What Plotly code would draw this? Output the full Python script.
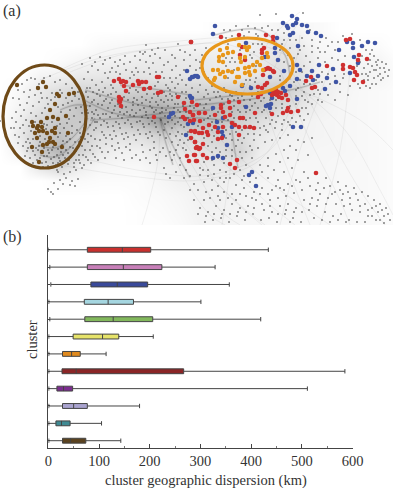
import plotly.graph_objects as go

# ---------- panel (b) values ----------
clusters = ["12", "11", "10", "9", "8", "7", "6", "5", "4", "3", "2", "1"]
box_colors = ["#5b4320", "#3f8a93", "#a9a3cf", "#7b2d8e", "#8a2526", "#e08a1e",
              "#e6e36a", "#82b85c", "#a5d6e0", "#3a4a9a", "#c77fb8", "#c9302e"]
lower = [1, 1, 1, 1, 1, 1, 1, 3, 1, 5, 3, 0]
q1 = [28, 15, 28, 17, 27, 28, 49, 72, 71, 84, 77, 77]
median = [44, 26, 50, 30, 55, 46, 107, 128, 118, 136, 148, 146]
q3 = [74, 43, 77, 48, 267, 63, 139, 206, 168, 196, 224, 202]
upper = [143, 105, 180, 511, 585, 114, 207, 419, 301, 357, 329, 434]
x_ticks = [0, 100, 200, 300, 400, 500, 600]

# ---------- panel (a) values ----------
red_nodes = [(191,42),(114,81),(119,79),(121,82),(123,81),(126,82),(124,86),(126,91),(133,85),(138,81),(139,84),(142,82),(146,82),(144,89),(150,88),(157,77),(159,77),(158,93),(161,92),(119,97),(121,99),(119,101),(120,102),(121,106),(154,117),(178,97),(184,103),(192,102),(197,105),(185,109),(190,112),(183,117),(185,119),(193,115),(194,120),(190,121),(199,113),(191,131),(195,132),(191,138),(195,142),(197,147),(199,149),(187,156),(194,155),(189,161),(196,161),(199,133),
(221,37),(239,35),(266,35),(273,37),(273,41),(191,42),(262,50),(262,53),(264,48),(242,47),(240,55),(245,60),(268,68),(266,69),(270,69),(264,70),(273,71),(274,72),(263,75),(267,83),(265,85),(258,87),(262,88),(275,92),(273,91),(276,90),(278,92),(281,93),(277,95),(279,97),(275,94),(272,95),(286,95),(282,98),(258,97),(261,94),(288,100),(288,108),(287,111),(291,112),(283,113),(298,111),(272,114),(255,113),(306,81),(311,77),(312,88),(315,87),(327,66),(343,65),(343,69),(346,40),(350,39),(359,55),(367,59),(350,67),(353,68),(355,72),(357,75),(354,80),(363,82),(358,60),(316,173),
(221,105),(221,108),(223,112),(229,102),(230,108),(225,117),(230,115),(240,118),(243,118),(239,102),(215,115),(205,113),(199,113),(193,115),(200,121),(209,125),(215,127),(203,128),(195,131),(202,133),(207,132),(208,135),(218,139),(222,138),(223,127),(232,123),(235,125),(239,127),(239,135),(245,127),(250,127),(254,128),(203,144),(195,142),(196,148),(200,148),(203,155),(207,158),(195,155),(197,161),(230,164),(235,168),(237,160),(218,132)]
blue_nodes = [(187,71),(195,76),(192,77),(190,79),(198,77),(190,96),(192,98),(171,114),(173,113),(169,117),(185,119),(188,124),(193,123),(186,135),
(292,16),(297,19),(215,26),(213,34),(283,23),(287,26),(288,28),(293,25),(296,23),(302,25),(307,26),(308,32),(316,33),(321,36),(293,33),(290,35),(277,38),(246,43),(275,48),(275,53),(278,60),(298,46),(339,50),(347,42),(353,43),(353,48),(362,46),(368,42),(375,43),(354,57),(358,63),(350,73),(297,65),(300,70),(284,71),(319,65),(333,69),(312,71),(307,76),(318,76),(313,80),(327,78),(336,82),(325,89),(297,79),(290,86),(270,77),(265,57),(251,88),(242,86),(270,93),(272,98),(283,88),(285,91),(297,99),(268,105),(266,106),(271,104),(270,108),(246,107),(213,108),(193,77),(197,76),(191,98),(217,122),(223,118),(232,127),(222,132),(223,136),(218,128),(227,145),(293,127),(301,127),(213,158),(218,156),(223,158),(252,172),(249,175),(256,186)]
orange_nodes = [(220,50),(223,55),(228,53),(233,52),(227,48),(239,45),(245,47),(249,47),(247,50),(219,57),(219,61),(223,62),(240,58),(241,62),(245,57),(262,58),(267,53),(268,57),(257,62),(260,65),(253,65),(263,70),(255,71),(249,67),(245,68),(238,69),(213,70),(218,70),(223,72),(228,71),(232,72),(220,74),(225,77),(215,78),(214,80),(237,77),(239,77),(235,82),(242,85),(245,73),(250,75),(249,72)]
brown_nodes = [(17,85),(43,82),(38,88),(46,87),(57,94),(59,96),(69,94),(74,93),(55,104),(50,110),(66,116),(47,118),(53,117),(58,119),(32,122),(33,126),(41,122),(38,126),(42,127),(37,128),(35,133),(39,131),(43,131),(47,133),(52,131),(55,128),(55,133),(68,133),(37,138),(50,138),(53,142),(49,142),(47,144),(43,145),(55,144),(32,147),(62,147),(42,152),(39,162)]

grey_nodes = [
# left cluster
(0,121),(13,98),(18,90),(22,84),(27,80),(31,78),(35,79),(39,84),(44,78),(50,76),(55,82),(60,80),(66,84),(72,88),(78,92),(24,92),(30,90),(35,95),(41,93),(47,98),(52,93),(60,90),(66,98),(72,101),(79,99),(84,104),
(20,105),(27,103),(33,106),(39,102),(45,108),(51,100),(58,107),(63,105),(70,110),(76,108),(82,113),(12,118),(16,122),(21,116),(26,120),(31,113),(36,116),(42,113),(61,112),(69,119),(74,116),(80,122),(86,118),
(11,128),(15,135),(20,128),(24,133),(28,139),(31,131),(44,124),(60,124),(64,128),(72,126),(77,130),(84,128),(90,125),(18,143),(23,146),(27,151),(30,143),(36,148),(40,142),(45,139),(58,137),(63,141),(70,139),(75,142),(81,137),(88,134),(94,130),
(25,156),(30,158),(35,155),(38,150),(44,148),(47,156),(52,150),(57,155),(61,152),(66,150),(70,147),(76,151),(82,146),(88,142),(95,139),(33,163),(40,158),(46,162),(51,159),(56,165),(60,161),(65,158),(71,156),(76,160),(83,155),(90,150),(97,146),
(43,167),(50,168),(57,170),(62,167),(68,164),(74,167),(80,163),(88,160),(95,157),(102,152),
# tail below left cluster
(58,172),(64,174),(70,172),(76,170),(82,168),(60,180),(66,178),(72,181),(78,179),(54,183),(63,184),(70,185),(75,186),(58,189),(48,189),(51,192),(53,194),
# band left-middle
(82,64),(90,58),(92,66),(88,72),(95,62),(98,70),(84,79),(92,80),(100,57),(103,64),(105,73),(96,85),(102,82),(108,78),(87,88),(93,92),(99,90),(105,88),(111,85),(116,72),(112,68),(120,74),(126,70),(132,72),(130,62),(136,68),(134,75),(140,60),(143,54),(146,62),(150,56),(149,68),(153,63),(156,72),(160,58),(164,65),(162,72),(168,62),(172,70),(170,78),(176,66),(180,75),(178,84),(184,60),(186,85),
(88,97),(94,100),(100,96),(106,99),(111,94),(116,92),(112,100),(118,104),(124,97),(129,93),(134,98),(138,92),(142,97),(147,94),(152,98),(156,102),(161,100),(166,96),(170,90),(175,88),(172,100),(178,104),(182,92),
(90,106),(96,110),(102,105),(108,108),(114,110),(120,112),(126,107),(132,110),(138,105),(144,108),(150,106),(156,110),(162,108),(168,106),(174,108),(180,112),
(92,118),(98,115),(104,121),(110,117),(116,122),(122,118),(128,120),(134,116),(140,121),(146,115),(152,121),(165,116),(172,120),(178,122),
(96,128),(102,132),(108,127),(114,131),(120,128),(126,133),(132,127),(138,130),(144,127),(150,132),(156,127),(165,124),(172,128),(178,132),(184,127),
(100,140),(106,144),(112,139),(118,143),(124,139),(130,144),(136,140),(142,145),(148,138),(154,142),(160,135),(166,138),(172,142),(180,140),
(108,152),(115,150),(122,153),(130,150),(136,155),(143,152),(150,150),(156,155),(163,148),(170,152),(176,150),(183,148),(150,163),(157,160),(164,168),(166,174),(172,160),(180,158),
(146,45),(140,52),(152,50),(158,48),(172,55),(180,50),(190,55),(196,60),(202,55),(206,48),(200,68),(204,72),(208,78),(178,44),
# centre
(200,85),(206,90),(212,86),(218,92),(224,88),(230,95),(236,92),(242,96),(248,94),(204,97),(210,100),(216,97),(222,99),(228,99),(234,100),(198,92),(192,88),(186,92),(250,100),(255,103),(261,101),(244,106),(238,110),(232,112),(250,110),(256,118),(262,112),(266,118),(272,120),(278,116),(284,120),(292,118),(300,116),(306,108),(312,104),(318,100),(310,95),(304,92),(298,88),(305,100),(296,104),(328,95),(322,102),(290,125),(282,130),(275,128),(268,132),(260,135),(254,140),(248,134),(242,143),(258,148),(265,142),(272,140),(280,138),(288,135),
(208,118),(212,122),(204,108),(198,126),(212,142),(216,148),(220,152),(226,150),(232,150),(236,146),(204,138),(208,146),(214,165),(208,170),(200,168),(220,170),(226,172),(240,170),(246,165),(252,158),(260,165),(268,158),
# upper middle
(255,28),(249,32),(258,36),(262,28),(268,26),(272,30),(278,30),(284,33),(290,40),(296,40),(302,38),(260,15),(276,14),(303,13),(310,30),(312,40),(320,42),(326,38),(332,42),(338,42),(343,36),(300,50),(306,56),(312,52),(318,48),(325,52),(332,58),(338,60),(345,56),(304,66),(310,62),(318,58),(325,62),(335,76),(343,78),(288,55),(284,62),(290,48),(282,44),(294,58),(280,76),(289,78),(296,90),
(230,30),(236,26),(242,30),(248,26),(224,30),(253,44),(258,44),(235,40),(228,44),(240,50),(235,62),(230,62),(226,66),(250,55),(254,52),(256,78),(250,80),(246,80),
# right wing
(352,34),(360,40),(366,50),(370,54),(374,56),(378,60),(382,62),(386,64),(360,62),(364,68),(368,64),(372,66),(376,70),(380,68),(385,72),(362,74),(366,74),(370,72),(374,78),(378,76),(381,80),(368,80),(372,84),(376,84),(366,86),(360,88),(350,86),(344,74),(340,84),(330,84),(322,82),(318,90),(340,92),(348,95),(335,100),(370,60),(377,65),(383,78),(389,70),
# lower right
(200,175),(204,182),(198,190),(206,192),(212,180),(218,186),(224,182),(230,178),(236,185),(242,180),(210,198),(218,196),(224,192),(232,194),(240,194),(246,196),(254,192),(262,188),(268,178),(274,170),(280,162),(288,158),(296,150),(304,142),(312,138),(278,180),(284,172),(292,168),(298,160),(308,155),(272,190),(280,188),(288,184),(296,180),(304,172),(270,200),(278,198),(286,196),(294,193),(302,190),(310,186),(318,183),(326,178),(330,186),(338,182),(346,186),(354,188),(362,192),(368,196),(374,200),(380,204),(386,208),(335,192),(343,194),(350,198),(358,200),(365,204),(372,208),(378,212),(384,216),(390,220),
(200,208),(208,212),(216,206),(224,210),(232,204),(240,208),(248,206),(256,200),(264,210),(272,212),(280,206),(288,204),(296,208),(304,200),(312,198),(320,194),(328,198),(336,204),(344,206),(352,210),(360,212),(368,216),(376,220),(384,223),
(205,222),(213,220),(221,218),(229,222),(237,216),(245,220),(253,214),(261,220),(269,218),(277,222),(285,214),(293,218),(301,222),(309,210),(317,206),(325,212),(333,216),(341,214),(349,220),(357,222),(365,222),(186,170),(190,176),(194,184),(186,150),(180,165),(176,172),(170,178),
]
grey_nodes_dense = [
# left cluster, second reading
(16,112),(19,99),(24,110),(29,97),(37,87),(42,98),(48,104),(55,97),(62,93),(68,103),(75,96),(81,107),(87,110),(23,125),(29,126),(35,122),(47,125),(52,122),(57,126),(67,123),(72,133),(80,133),(86,123),(92,112),(14,128),(19,137),(26,142),(33,139),(40,136),(46,129),(60,133),(66,136),(73,148),(79,142),(85,139),(91,136),(97,122),(103,114),
(28,148),(33,151),(39,146),(43,152),(48,150),(53,147),(58,149),(62,145),(67,142),(44,156),(49,153),(54,157),(59,158),(63,155),(68,153),(73,154),(79,155),(85,150),(92,146),(37,160),(42,163),(48,166),(53,163),(58,163),(63,163),(69,160),(74,163),(79,160),(86,157),(93,154),(100,148),(106,138),(84,165),(91,163),(98,160),(105,158),(112,146),(119,148),(126,147),
# band, second reading
(105,60),(110,58),(115,62),(120,60),(125,56),(135,56),(145,52),(155,54),(165,50),(175,58),(185,52),(195,50),(200,62),(110,72),(118,66),(124,64),(130,78),(138,72),(144,72),(150,74),(158,82),(164,78),(166,85),(172,82),(176,78),(184,70),(190,66),(196,70),(182,80),
(86,92),(90,88),(97,94),(103,92),(108,95),(113,88),(128,100),(133,102),(137,100),(142,103),(146,100),(150,102),(154,94),(158,96),(164,102),(168,100),(172,96),(176,94),(180,96),(186,98),(164,92),(170,94),(155,86),(168,88),(148,88),(136,90),(130,88),
(92,102),(98,104),(104,101),(110,103),(115,106),(122,108),(127,112),(133,105),(140,110),(146,112),(152,108),(158,105),(162,112),(166,110),(170,112),(175,104),(178,110),(183,106),(186,112),(190,106),(194,108),(200,104),(88,113),(94,114),(100,118),(106,114),(112,113),(118,116),(124,114),(130,115),(136,113),(142,117),(148,118),(154,112),(160,113),(168,118),(175,116),(180,118),
(95,122),(101,125),(107,123),(113,126),(119,124),(125,123),(131,124),(137,122),(143,124),(149,124),(155,123),(161,120),(168,122),(175,124),(181,125),(188,118),(104,135),(110,135),(116,136),(122,134),(128,137),(134,135),(140,134),(146,134),(152,136),(158,132),(164,130),(170,134),(176,136),(182,134),(188,132),
(116,158),(124,160),(132,158),(140,160),(146,158),(154,148),(160,152),(166,156),(174,155),(178,145),(184,143),(188,140),
# centre, second reading
(208,94),(214,92),(220,96),(226,92),(232,96),(238,98),(244,100),(252,96),(258,92),(264,98),(270,100),(276,100),(282,104),(290,106),(296,96),(302,96),(308,102),(314,94),(320,94),(206,104),(212,110),(218,112),(224,104),(234,106),(240,112),(246,112),(252,106),(258,108),(264,110),(270,112),(276,108),(282,108),(302,108),(308,114),(204,120),(210,116),(216,120),(222,122),(228,120),(234,118),(246,120),(250,118),(258,122),(264,126),(270,124),(276,122),(282,124),(288,122),(296,122),(304,120),(212,130),(226,130),(230,134),(236,132),(242,130),(248,128),(254,134),(260,128),(266,130),(214,136),(226,138),(232,140),(238,140),(244,138),(250,146),(212,152),(218,158),(226,156),(232,156),(240,152),(246,152),(252,150),(204,162),(212,160),(224,163),(242,158),
(280,80),(286,82),(294,82),(300,80),(304,84),(310,84),(316,80),(322,72),(328,74),(296,72),(302,72),(290,66),(298,54),(304,46),(312,46),(320,52),(328,46),(335,50),(280,50),(284,40),
(262,44),(256,34),(250,38),(244,36),(232,36),(226,38),(256,66),(252,58),(246,60),(232,58),(226,58),(234,70),(228,78),(244,84),(250,86),(255,82),
(372,50),(376,62),(380,74),(384,68),(388,76),(374,70),(368,76),(364,80),(357,66),(362,56),(370,88),(358,84),
# lower right, second reading
(203,170),(208,176),(214,174),(220,178),(226,178),(234,174),(244,176),(250,182),(256,178),(262,172),(268,166),(276,154),(284,150),(290,146),(298,140),(204,200),(212,190),(220,200),(228,198),(236,200),(244,188),(252,198),(260,194),(268,194),(276,186),(284,190),(292,186),(300,182),(308,178),(316,190),(324,188),(332,194),(340,190),(348,192),(356,194),(350,204),(342,200),(360,206),(368,210),(376,206),(382,210),(388,214),(326,204),(318,200),(310,204),(302,212),(294,212),(286,210),(278,214),(270,206),(262,204),(254,208),(246,212),(238,212),(230,214),(222,214),(214,214),(206,216),(198,214),(290,222),(314,218),(322,220),(330,222),(338,220),(346,222),(372,216),(380,220),(194,200),(190,190),(184,178),
]
all_grey_nodes = grey_nodes + grey_nodes_dense

# faint edges, as (x, y) waypoints
faint_edges = [
[(60,70),(110,50),(170,42),(240,38),(290,50)],[(70,72),(120,55),(180,46),(250,42),(295,60)],[(40,80),(100,58),(160,48),(230,45),(280,70)],
[(90,160),(150,172),(210,175),(270,150),(300,100)],[(60,165),(130,176),(200,180),(260,160),(290,110)],
[(285,60),(320,120),(360,190),(385,225)],[(280,70),(310,140),(340,200),(350,225)],[(295,85),(345,130),(380,190),(393,215)],[(260,90),(280,150),(300,200),(310,225)],[(300,90),(360,120),(393,150)],
[(160,118),(180,170),(210,215),(225,225)],[(165,118),(195,170),(220,210),(240,225)],[(170,120),(205,170),(240,205),(265,225)],[(175,122),(220,160),(270,205),(295,225)],
[(160,118),(158,160),(148,205),(142,225)],[(230,120),(232,150),(228,185),(222,225)],[(240,100),(270,40),(284,25),(300,12)],[(265,90),(285,45),(300,20)],[(280,90),(296,60),(300,35)],
[(330,68),(300,150),(280,225)],[(350,70),(340,150),(320,225)],[(190,130),(215,180),(262,225)],[(200,120),(260,175),(330,225)],
]
haze_edges = [
[(84,100),(110,112),(135,117),(160,118),(200,118),(235,122)],[(85,90),(120,100),(160,108),(200,105),(260,98)],[(90,120),(125,118),(165,113),(210,110)],
[(40,155),(55,157),(70,148),(85,132),(95,118)],[(38,145),(55,148),(72,138),(88,118)],[(60,110),(75,105),(90,106)],
[(160,118),(165,140),(173,165)],[(160,118),(175,150),(190,178)],[(232,130),(235,152),(238,168)],[(195,100),(240,95),(290,90),(320,82)],[(120,85),(160,90),(190,95)],[(215,35),(260,30),(285,55),(290,80)],
]

# darkness of the edge haze, read on a coarse grid (0 = white)
haze_x = [0, 20, 40, 60, 80, 100, 120, 140, 160, 180, 200, 220, 240, 260, 280, 300, 320, 340, 360, 380, 393]
haze_y = [30, 45, 60, 75, 90, 105, 120, 135, 150, 165, 180, 195, 210, 225]
haze_row_30 = [0, 0, 0, 0, 0, 0, 0, 0, 0, 0, 0, 2, 3, 4, 6, 5, 3, 0, 0, 0, 0]
haze_row_45 = [0, 0, 0, 0, 0, 3, 4, 5, 6, 6, 6, 6, 7, 10, 14, 10, 4, 3, 2, 2, 0]
haze_row_60 = [0, 0, 0, 2, 5, 7, 8, 10, 12, 12, 12, 10, 10, 12, 16, 14, 6, 5, 5, 5, 2]
haze_row_75 = [0, 0, 6, 8, 12, 13, 14, 15, 14, 14, 14, 12, 12, 14, 18, 16, 8, 7, 7, 6, 3]
haze_row_90 = [0, 4, 12, 18, 22, 22, 24, 26, 26, 24, 24, 24, 26, 30, 28, 20, 10, 6, 4, 3, 2]
haze_row_105 = [0, 6, 14, 22, 34, 36, 38, 40, 42, 36, 38, 38, 34, 30, 22, 14, 8, 5, 4, 3, 2]
haze_row_120 = [0, 10, 22, 30, 30, 30, 34, 40, 55, 40, 38, 34, 26, 18, 12, 8, 6, 5, 4, 3, 2]
haze_row_135 = [0, 12, 28, 34, 26, 18, 16, 18, 26, 20, 22, 24, 20, 12, 8, 7, 6, 5, 4, 3, 2]
haze_row_150 = [0, 8, 30, 40, 24, 12, 8, 8, 14, 14, 16, 18, 24, 10, 7, 6, 5, 5, 4, 3, 2]
haze_row_165 = [0, 0, 16, 24, 10, 5, 4, 4, 8, 10, 12, 12, 14, 8, 6, 5, 5, 4, 4, 3, 2]
haze_row_180 = [0, 0, 0, 3, 3, 2, 2, 2, 5, 8, 9, 9, 7, 6, 5, 5, 5, 4, 4, 3, 2]
haze_row_195 = [0, 0, 0, 0, 0, 0, 0, 2, 3, 5, 8, 8, 6, 5, 5, 5, 4, 4, 4, 3, 2]
haze_row_210 = [0, 0, 0, 0, 0, 0, 0, 1, 2, 4, 7, 7, 6, 5, 5, 5, 4, 4, 4, 3, 2]
haze_row_225 = [0, 0, 0, 0, 0, 0, 0, 1, 1, 3, 6, 6, 5, 5, 4, 4, 4, 3, 3, 3, 2]
haze_rows = [haze_row_30, haze_row_45, haze_row_60, haze_row_75, haze_row_90, haze_row_105, haze_row_120,
             haze_row_135, haze_row_150, haze_row_165, haze_row_180, haze_row_195, haze_row_210, haze_row_225]

ellipses = [
    {"x0": 3, "x1": 86, "y0": 65, "y1": 168, "color": "#6f4a18"},
    {"x0": 202, "x1": 293, "y0": 38, "y1": 94, "color": "#e8971a"},
]
panel_labels = [("(a)", 1, 11), ("(b)", 1, 237)]
axis_x_title = "cluster geographic dispersion (km)"
axis_y_title = "cluster"

W, H = 393, 488
fig = go.Figure()

fig.add_trace(go.Heatmap(x=haze_x, y=haze_y, z=haze_rows, xaxis="x2", yaxis="y2", zsmooth="best",
                         zmin=0, zmax=115, showscale=False, hoverinfo="skip",
                         colorscale=[[0, "#ffffff"], [1, "#303030"]]))


def edge_trace(paths, color, width):
    xs, ys = [], []
    for p in paths:
        xs += [q[0] for q in p] + [None]
        ys += [q[1] for q in p] + [None]
    return go.Scatter(x=xs, y=ys, mode="lines", xaxis="x2", yaxis="y2", hoverinfo="skip",
                      line=dict(color=color, width=width, shape="spline"), showlegend=False)


fig.add_trace(edge_trace(faint_edges, "rgba(120,120,120,0.16)", 0.6))
fig.add_trace(edge_trace(haze_edges, "rgba(60,60,60,0.08)", 2.5))
fig.add_trace(edge_trace(haze_edges, "rgba(50,50,50,0.30)", 0.7))


def node_trace(nodes, color, size):
    return go.Scatter(x=[n[0] for n in nodes], y=[n[1] for n in nodes], mode="markers",
                      xaxis="x2", yaxis="y2", showlegend=False, hoverinfo="skip",
                      marker=dict(color=color, size=size, line=dict(width=0)))


fig.add_trace(node_trace(all_grey_nodes, "#303030", 1.6))
fig.add_trace(node_trace(blue_nodes, "#3f55a5", 4.6))
fig.add_trace(node_trace(red_nodes, "#cf3030", 4.6))
fig.add_trace(node_trace(orange_nodes, "#e8971a", 4.4))
fig.add_trace(node_trace(brown_nodes, "#6f4a18", 4.4))

for i, name in enumerate(clusters):
    fig.add_trace(go.Box(y=[name], q1=[q1[i]], median=[median[i]], q3=[q3[i]],
                         lowerfence=[lower[i]], upperfence=[upper[i]], orientation="h",
                         fillcolor=box_colors[i], width=0.28, whiskerwidth=0.9,
                         line=dict(color="#444444", width=1), boxpoints=False,
                         showlegend=False, hoverinfo="skip"))

annotations = [dict(text=t, xref="paper", yref="paper", x=px / W, y=1 - py / H, xanchor="left",
                    yanchor="middle", showarrow=False, font=dict(size=16, color="#333333"))
               for t, px, py in panel_labels]
annotations.append(dict(text=axis_x_title, xref="paper", yref="paper", x=206 / W, y=1 - 480 / H,
                        xanchor="center", yanchor="middle", showarrow=False,
                        font=dict(size=14.5, color="#333333")))
annotations.append(dict(text=axis_y_title, xref="paper", yref="paper", x=32 / W, y=1 - 340 / H,
                        textangle=-90, xanchor="center", yanchor="middle", showarrow=False,
                        font=dict(size=14.5, color="#333333")))

fig.update_layout(
    width=W, height=H, margin=dict(l=0, r=0, t=0, b=0), paper_bgcolor="white", plot_bgcolor="white",
    font=dict(family="Liberation Serif", size=14, color="#333333"), showlegend=False,
    xaxis=dict(domain=[48.3 / W, 352.5 / W], range=[0, 600], anchor="y", tickvals=x_ticks, automargin=False,
               ticks="inside", ticklen=4, tickcolor="#444444", showline=True, linecolor="#444444",
               linewidth=1, showgrid=False, zeroline=False, tickfont=dict(size=14.5),
               minor=dict(dtick=50, ticks="inside", ticklen=2, tickcolor="#777777", showgrid=False)),
    yaxis=dict(domain=[1 - 448 / H, 1 - 235 / H], range=[-0.42, 11.85], anchor="x", type="category",
               categoryorder="array", categoryarray=clusters, showticklabels=False, ticks="inside", automargin=False,
               ticklen=2, tickcolor="#444444", showline=True, linecolor="#444444", linewidth=1,
               showgrid=False, zeroline=False),
    xaxis2=dict(domain=[0, 1], range=[0, W], anchor="y2", visible=False),
    yaxis2=dict(domain=[1 - 225 / H, 1], range=[225, 0], anchor="x2", visible=False),
    shapes=[dict(type="circle", xref="x2", yref="y2", x0=e["x0"], x1=e["x1"], y0=e["y0"], y1=e["y1"],
                 line=dict(color=e["color"], width=3.2)) for e in ellipses],
    annotations=annotations,
)
fig.write_html("out.html", config={"displayModeBar": False},
               post_script="document.body.style.margin='0';document.documentElement.style.overflow='hidden';")
